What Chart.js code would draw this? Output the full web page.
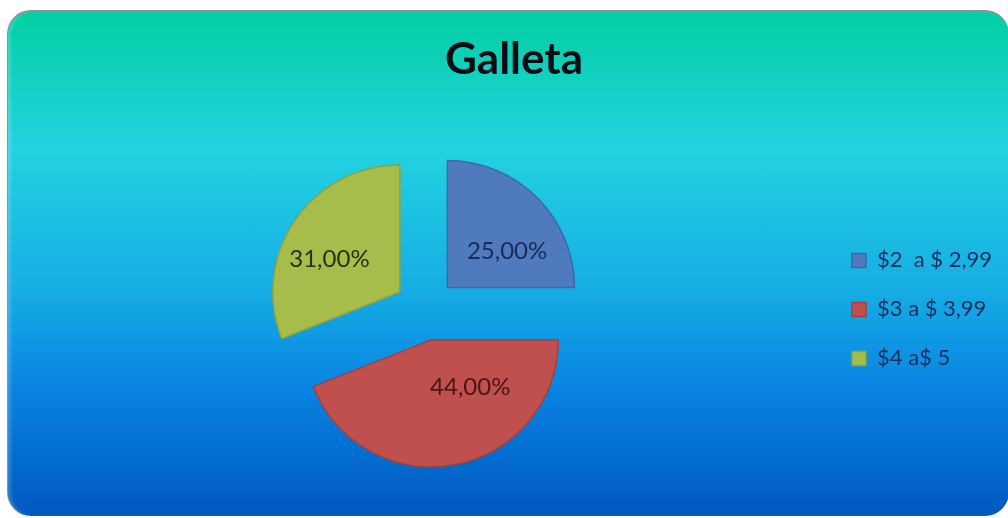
<!DOCTYPE html>
<html>
<head>
<meta charset="utf-8">
<script src="https://cdn.jsdelivr.net/npm/chart.js@4.4.0/dist/chart.umd.min.js"></script>
<style>
  html, body { margin: 0; padding: 0; background: #ffffff; }
  #wrap { position: relative; width: 1008px; height: 518px; overflow: hidden; }
  #panel {
    position: absolute; left: 7px; top: 10px; width: 1001px; height: 504px;
    border-radius: 24px;
    border-top: 2px solid #8e8fa2; border-left: 1px solid #8394a6;
    background: linear-gradient(to bottom, #02cfa2 0%, #22d3e0 27%, #16ade4 55%, #0883e2 75%, #0058c0 100%);
    box-shadow: inset 4px 0 3px -1px rgba(255,255,255,0.18);
  }
  #chart { position: absolute; left: 0; top: 0; }
</style>
</head>
<body>
<div id="wrap">
  <div id="panel"></div>
  <canvas id="chart" width="1008" height="518"></canvas>
</div>
<script>
// price ranges and share of each one
const categories = ["$2  a $ 2,99", "$3 a $ 3,99", "$4 a$ 5"];
const shares = [25, 44, 31];

const sliceColors = ["#4f7abd", "#c0504d", "#a6bd4c"];
const sliceBorders = ["#3c69a8", "#a6403d", "#8ea43e"];
const labelColors = ["#1b2b58", "#4a1616", "#27320e"];

// how far each slice is pulled away from the centre, and label nudges
const explode = [31, 31, 31];
const labelNudge = [[26, -3], [30, 1], [-31, -6]];

const formatShare = v => v.toFixed(2).replace(".", ",") + "%";

// draws every slice shifted outwards along its middle angle
const explodedSlices = {
  id: "explodedSlices",
  beforeDatasetDraw(chart, args) {
    const ctx = chart.ctx;
    args.meta.data.forEach((arc, i) => {
      const mid = (arc.startAngle + arc.endAngle) / 2;
      ctx.save();
      ctx.translate(Math.cos(mid) * explode[i], Math.sin(mid) * explode[i]);
      arc.draw(ctx);
      ctx.restore();
    });
    return false;
  }
};

// percentage text inside each slice
const sliceLabels = {
  id: "sliceLabels",
  afterDatasetsDraw(chart) {
    const ctx = chart.ctx;
    const meta = chart.getDatasetMeta(0);
    ctx.save();
    ctx.font = "24px Lato";
    ctx.textAlign = "center";
    ctx.textBaseline = "middle";
    meta.data.forEach((arc, i) => {
      const mid = (arc.startAngle + arc.endAngle) / 2;
      const d = explode[i] + arc.outerRadius * 0.375;
      const x = arc.x + Math.cos(mid) * d + labelNudge[i][0];
      const y = arc.y + Math.sin(mid) * d + labelNudge[i][1];
      ctx.fillStyle = labelColors[i];
      ctx.fillText(formatShare(shares[i]), x, y);
    });
    ctx.restore();
  }
};

const ctx = document.getElementById("chart").getContext("2d");
new Chart(ctx, {
  type: "pie",
  data: {
    labels: categories,
    datasets: [{
      data: shares,
      backgroundColor: sliceColors,
      borderColor: sliceBorders,
      borderWidth: 1.5
    }]
  },
  options: {
    responsive: false,
    animation: false,
    events: [],
    radius: 127,
    layout: { padding: { left: 26, right: 6, top: 12, bottom: 4 } },
    plugins: {
      title: {
        display: true,
        text: "Galleta",
        color: "#0b0d16",
        font: { family: "Lato", size: 44, weight: "bold" },
        padding: { top: 21, bottom: 19 }
      },
      legend: {
        position: "right",
        fullSize: false,
        labels: {
          color: "#1c2d5c",
          font: { family: "Lato", size: 22 },
          boxWidth: 14,
          boxHeight: 14,
          padding: 27
        }
      },
      tooltip: { enabled: false }
    }
  },
  plugins: [explodedSlices, sliceLabels]
});
</script>
</body>
</html>
